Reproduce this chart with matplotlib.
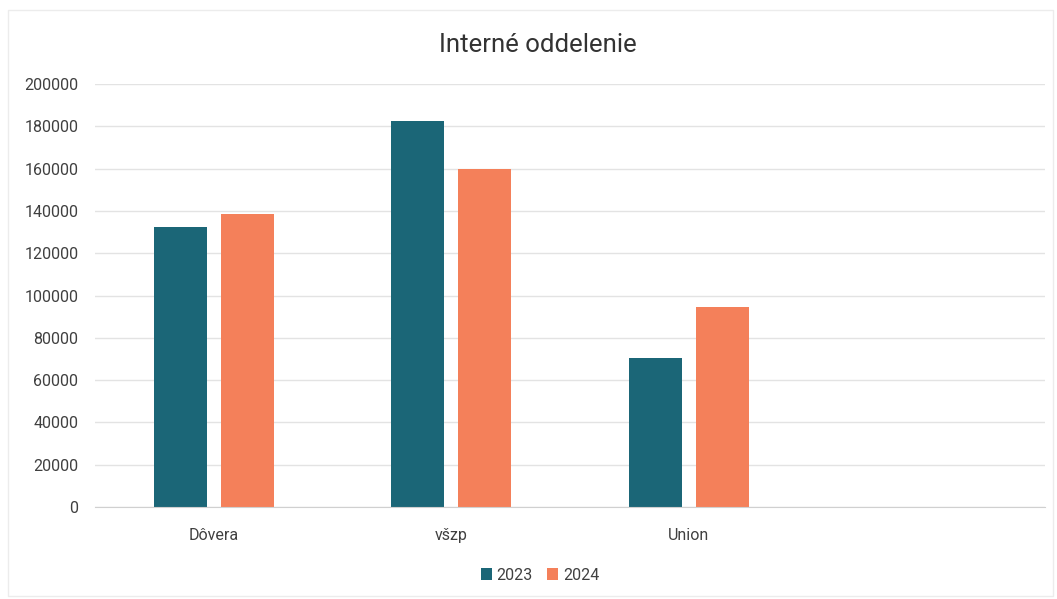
import matplotlib.pyplot as plt
import numpy as np
from matplotlib.patches import Rectangle

# data (4th category is empty in the original)
categories = ["Dôvera", "všzp", "Union", ""]
years = ["2023", "2024"]
values_2023 = [132500, 182300, 70400, np.nan]
values_2024 = [138600, 159800, 94700, np.nan]
y_ticks = [0, 20000, 40000, 60000, 80000, 100000, 120000, 140000, 160000, 180000, 200000]

teal = "#1b6677"
orange = "#f4805a"

plt.rcParams['font.family'] = ['Roboto', 'DejaVu Sans']

fig = plt.figure(figsize=(10.57, 5.99), dpi=100)
ax = fig.add_axes([95 / 1057, 1 - 507 / 599, 950 / 1057, 423 / 599])

x = np.arange(len(categories))
w = 0.223
off = (w + 0.059) / 2
ax.bar(x - off, values_2023, w, color=teal, label=years[0], zorder=3)
ax.bar(x + off, values_2024, w, color=orange, label=years[1], zorder=3)

ax.set_xlim(-0.5, len(categories) - 0.5)
ax.set_ylim(0, 200000)
ax.set_yticks(y_ticks)
ax.set_yticklabels([str(t) for t in y_ticks], fontsize=11.5, color="#404040")
ax.set_xticks(x)
ax.set_xticklabels(categories, fontsize=11.5, color="#404040")
ax.tick_params(axis='both', length=0)
ax.tick_params(axis='y', pad=12)
ax.tick_params(axis='x', pad=15)

ax.grid(axis='y', color="#e3e3e3", linewidth=1, zorder=0)
for s in ["top", "right", "left"]:
    ax.spines[s].set_visible(False)
ax.spines["bottom"].set_color("#d0d0d0")
ax.spines["bottom"].set_zorder(4)

fig.text(538 / 1057, 1 - 45 / 599, "Interné oddelenie", ha="center", va="center",
         fontsize=18.5, color="#333333")

fig.legend(loc="center", bbox_to_anchor=(540 / 1057, 1 - 575 / 599), ncol=2,
           frameon=False, fontsize=11.5, handlelength=0.7, handleheight=0.7,
           handletextpad=0.3, columnspacing=0.9, labelcolor="#404040")

# faint chart-area border like the excel screenshot
fig.patches.append(Rectangle((8 / 1057, 0.005), 1045 / 1057, 1 - 10 / 599 - 0.005,
                             transform=fig.transFigure, fill=False,
                             edgecolor="#ececec", linewidth=1))

fig.savefig("out.png", dpi=100, facecolor="white")
